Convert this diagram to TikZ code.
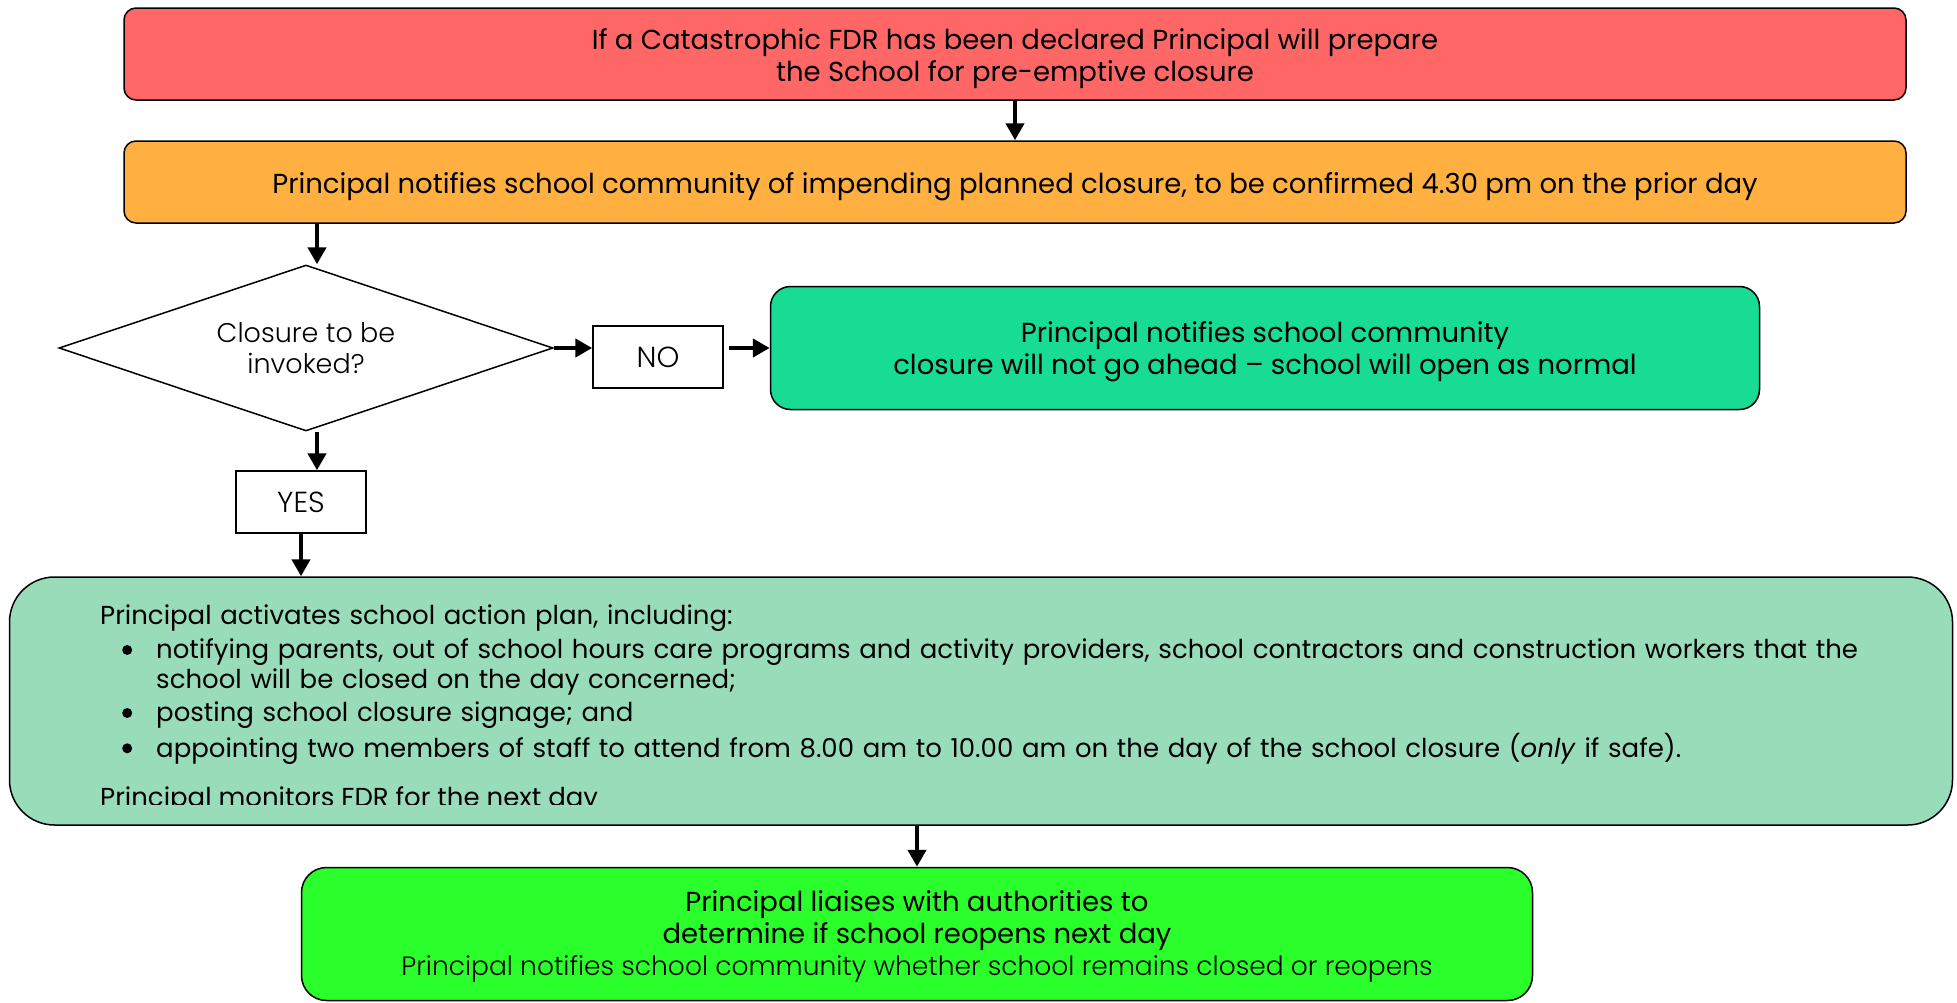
\documentclass[tikz,border=0pt]{standalone}
\usepackage{fontspec}
\setmainfont{Poppins}
\newfontfamily\lightfont{Poppins Light}
\usetikzlibrary{shapes.geometric,arrows.meta}
\definecolor{fdrred}{HTML}{FF6666}
\definecolor{fdrorange}{HTML}{FFB040}
\definecolor{nogreen}{HTML}{18DC94}
\definecolor{plangreen}{HTML}{99DCBA}
\definecolor{nextgreen}{HTML}{2BFF2B}
\newcommand{\planbullet}{\raisebox{4pt}{\tikz\fill (0,0) circle (5pt);}}
\newcommand{\textdrop}[1]{\rule{0pt}{#1pt}}
\tikzset{
  stepbox/.style  = {draw, line width=1.5pt, rounded corners=12pt, align=center,
                     inner sep=0pt, font=\fontsize{27.5}{32}\selectfont},
  answer/.style   = {draw, line width=1.5pt, minimum width=130pt, minimum height=62pt,
                     inner sep=0pt, font=\lightfont\fontsize{29}{30}\selectfont},
  plantext/.style = {inner sep=0pt, font=\fontsize{26}{30}\selectfont},
  flow/.style     = {-{Triangle[length=17pt,width=18pt]}, line width=4.5pt}
}

\begin{document}
\begin{tikzpicture}[x=1pt,y=-1pt]
  \useasboundingbox (0,0) rectangle (1957,1002);
  \node[stepbox, fill=fdrred, minimum width=1782pt, minimum height=92pt] (declared) at (1015,54)
    {\textdrop{30}If a Catastrophic FDR has been declared Principal will prepare\\the School for pre-emptive closure};
  \node[stepbox, fill=fdrorange, minimum width=1782pt, minimum height=82pt] (notify) at (1015,182)
    {\textdrop{30}Principal notifies school community of impending planned closure, to be confirmed 4.30 pm on the prior day};
  \node[draw, line width=1.5pt, diamond, aspect=3, minimum width=494pt, minimum height=166pt, inner sep=0pt,
        align=center, font=\lightfont\fontsize{27}{31}\selectfont] (invoke) at (306,348)
    {Closure to be\\invoked?};
  \node[answer] (no) at (658,357) {NO};
  \node[stepbox, rounded corners=20pt, fill=nogreen, minimum width=989pt, minimum height=123pt] (normal) at (1265,348)
    {\textdrop{28}Principal notifies school community\\closure will not go ahead -- school will open as normal};
  \node[answer] (yes) at (301,502) {YES};
  \node[stepbox, rounded corners=45pt, fill=plangreen, minimum width=1943pt, minimum height=248pt] (plan) at (981,701) {};
  \node[plantext, anchor=north west, text width=1840pt, align=left] (actions) at (100,605)
    {Principal activates school action plan, including:
     \begin{list}{\planbullet}{\setlength{\leftmargin}{56pt}\setlength{\labelsep}{24pt}%
       \setlength{\topsep}{4pt}\setlength{\partopsep}{0pt}\setlength{\parsep}{0pt}\setlength{\itemsep}{3pt}}
     \item notifying parents, out of school hours care programs and activity providers, school contractors and construction workers that the\newline
           school will be closed on the day concerned;
     \item posting school closure signage; and
     \item appointing two members of staff to attend from 8.00 am to 10.00 am on the day of the school closure (\textit{only} if safe).
     \end{list}};
  \begin{scope}
    \clip (0,0) rectangle (1957,804);
    \node[plantext, anchor=base west] (monitor) at (100,806)
      {Principal monitors FDR for the next day};
  \end{scope}
  \node[stepbox, rounded corners=25pt, fill=nextgreen, minimum width=1231pt, minimum height=133pt] (reopen) at (917,934)
    {\textdrop{25}Principal liaises with authorities to\\determine if school reopens next day\\{\lightfont\fontsize{26.5}{32}\selectfont Principal notifies school community whether school remains closed or reopens}};
  % connectors
  \draw[flow] (notify.south -| 317,0) -- (invoke.north -| 317,0);
  \draw[flow] (declared.south) -- (notify.north);
  \draw[flow] (invoke.east) -- (invoke.east -| no.west);
  \draw[flow] ([xshift=5pt]no.east |- normal.west) -- (normal.west);
  \draw[flow] ([xshift=11pt]invoke.south) -- (yes.north -| 317,0);
  \draw[flow] (yes.south) -- (yes.south |- plan.north);
  \draw[flow] (plan.south -| reopen.north) -- (reopen.north);
\end{tikzpicture}
\end{document}
